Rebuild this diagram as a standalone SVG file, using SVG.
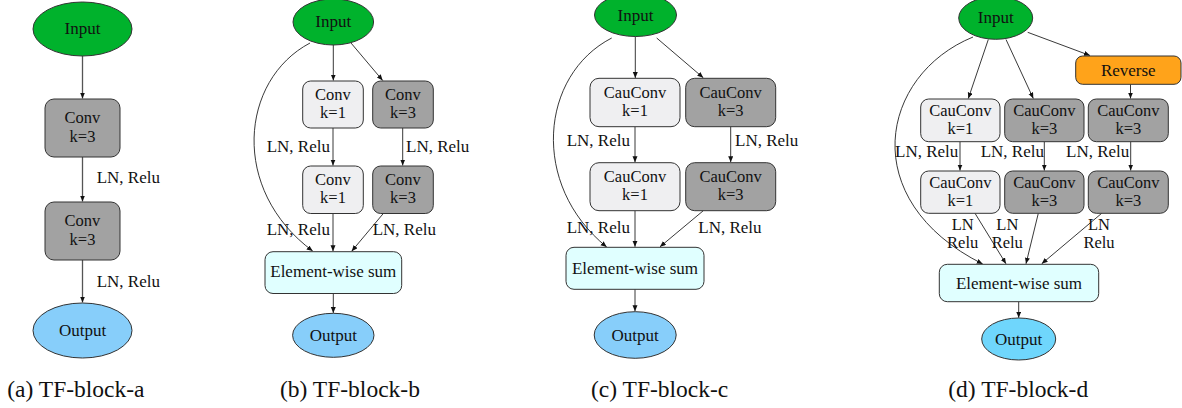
<svg xmlns="http://www.w3.org/2000/svg" width="1182" height="408" viewBox="0 0 1182 408" font-family="'Liberation Serif', 'Times New Roman', serif">
<defs>
<marker id="ah" markerUnits="userSpaceOnUse" markerWidth="7" markerHeight="6" refX="6" refY="2.5" orient="auto">
<path d="M0,0 L6,2.5 L0,5 z" fill="#111"/>
</marker>
<style>
text{font-family:"Liberation Serif","Times New Roman",serif;font-size:17px;fill:#111}
.m{text-anchor:middle}
.t2{font-size:16.5px}
.cap{font-size:23.5px}
.nd{stroke:#333;stroke-width:1}
.in{fill:#00b22c}
.out{fill:#87cefa}
.out2{fill:#6fd6fc}
.dk{fill:#a2a2a2}
.lt{fill:#efeff1}
.sum{fill:#e0ffff}
.rev{fill:#ffa31a}
.e{fill:none;stroke:#222;stroke-width:0.9;marker-end:url(#ah)}
.ea{fill:none;stroke:#555;stroke-width:1.3;marker-end:url(#ah)}
</style>
</defs>
<rect width="1182" height="408" fill="#fff"/>

<g id="connectors">
<!-- panel a -->
<path class="ea" d="M82.5,56 L82.5,98.5"/>
<path class="ea" d="M82.5,157 L82.5,201.5"/>
<path class="ea" d="M82.5,260 L82.5,302.5"/>
<!-- panel b -->
<path class="e" d="M333.3,45 L333.3,80.5"/>
<path class="e" d="M351,43 L382.7,80.5"/>
<path class="e" d="M333,128 L333,165.5"/>
<path class="e" d="M402.7,128 L402.7,165.5"/>
<path class="e" d="M333,213.5 L333,251.2"/>
<path class="e" d="M383.3,213.5 L351.7,251.2"/>
<path class="e" d="M333.3,293.5 L333.3,313"/>
<path class="e" d="M310,43 C240,80 230,190 312.7,251"/>
<!-- panel c -->
<path class="e" d="M635.3,36.5 L635.3,78"/>
<path class="e" d="M656.7,38 L703.3,77.8"/>
<path class="e" d="M635,126.7 L635,162.2"/>
<path class="e" d="M730.7,126.7 L730.7,162.2"/>
<path class="e" d="M635,210.7 L635,246.8"/>
<path class="e" d="M703.3,210.7 L660,246.8"/>
<path class="e" d="M635,289.3 L635,311.3"/>
<path class="e" d="M611.7,38 C540,75 530,185 606.7,247"/>
<!-- panel d -->
<path class="e" d="M988.3,39.5 L968.3,98.5"/>
<path class="e" d="M1006,39.5 L1033.3,98.5"/>
<path class="e" d="M1027.7,32.3 L1090,55.5"/>
<path class="e" d="M1130.5,84.3 L1130.5,98.5"/>
<path class="e" d="M960,141.7 L960,170.5"/>
<path class="e" d="M1044.3,141.7 L1044.3,170.5"/>
<path class="e" d="M1130.7,141.7 L1130.7,170.5"/>
<path class="e" d="M975,213.3 L1006,263.8"/>
<path class="e" d="M1038.3,213.3 L1026,263.8"/>
<path class="e" d="M1101.7,213.3 L1041.7,263.8"/>
<path class="e" d="M1018.7,301.7 L1018.7,317.8"/>
<path class="e" d="M973,37 C880,75 855,200 982.7,264"/>
</g>

<g id="labels">
<text x="96.7" y="183">LN, Relu</text>
<text x="96.7" y="287">LN, Relu</text>
<text x="266.7" y="152">LN, Relu</text>
<text x="406" y="152">LN, Relu</text>
<text x="266.7" y="235">LN, Relu</text>
<text x="372.7" y="235">LN, Relu</text>
<text x="566.7" y="146">LN, Relu</text>
<text x="735" y="146">LN, Relu</text>
<text x="566.7" y="233">LN, Relu</text>
<text x="698.3" y="233">LN, Relu</text>
<text x="895" y="157">LN, Relu</text>
<text x="980.7" y="157">LN, Relu</text>
<text x="1066" y="157">LN, Relu</text>
<text class="m t2" x="962.7" y="230">LN<tspan x="962.7" dy="18.4">Relu</tspan></text>
<text class="m t2" x="1007.3" y="230">LN<tspan x="1007.3" dy="18.4">Relu</tspan></text>
<text class="m t2" x="1099" y="230">LN<tspan x="1099" dy="18.4">Relu</tspan></text>
</g>

<!-- panel a nodes -->
<g id="a-input"><ellipse class="nd in" cx="82.5" cy="29" rx="49.5" ry="27"/><text class="m" x="82.5" y="34">Input</text></g>
<g id="a-conv1"><rect class="nd dk" x="45" y="99" width="75" height="58" rx="9"/><text class="m t2" x="82.5" y="123.3">Conv<tspan x="82.5" dy="18.4">k=3</tspan></text></g>
<g id="a-conv2"><rect class="nd dk" x="45" y="202" width="75" height="58" rx="9"/><text class="m t2" x="82.5" y="226.3">Conv<tspan x="82.5" dy="18.4">k=3</tspan></text></g>
<g id="a-output"><ellipse class="nd out" cx="82.5" cy="330.5" rx="49.5" ry="27.5"/><text class="m" x="82.5" y="336">Output</text></g>

<!-- panel b nodes -->
<g id="b-input"><ellipse class="nd in" cx="333.3" cy="22" rx="40.3" ry="23"/><text class="m" x="333.3" y="27">Input</text></g>
<g id="b-conv1a"><rect class="nd lt" x="302.7" y="81" width="60.6" height="47" rx="8"/><text class="m t2" x="333" y="99.8">Conv<tspan x="333" dy="18.4">k=1</tspan></text></g>
<g id="b-conv3a"><rect class="nd dk" x="372.7" y="81" width="60.6" height="47" rx="8"/><text class="m t2" x="403" y="99.8">Conv<tspan x="403" dy="18.4">k=3</tspan></text></g>
<g id="b-conv1b"><rect class="nd lt" x="302.7" y="166" width="60.6" height="47.5" rx="8"/><text class="m t2" x="333" y="185">Conv<tspan x="333" dy="18.4">k=1</tspan></text></g>
<g id="b-conv3b"><rect class="nd dk" x="372.7" y="166" width="60.6" height="47.5" rx="8"/><text class="m t2" x="403" y="185">Conv<tspan x="403" dy="18.4">k=3</tspan></text></g>
<g id="b-sum"><rect class="nd sum" x="265" y="251.7" width="136.7" height="41.8" rx="8"/><text class="m" x="333.3" y="277">Element-wise sum</text></g>
<g id="b-output"><ellipse class="nd out" cx="333.3" cy="335.3" rx="40.7" ry="22"/><text class="m" x="333.3" y="341">Output</text></g>

<!-- panel c nodes -->
<g id="c-input"><ellipse class="nd in" cx="635.5" cy="15" rx="41" ry="21.5"/><text class="m" x="635.5" y="21">Input</text></g>
<g id="c-cau1a"><rect class="nd lt" x="590" y="78.3" width="90" height="48.4" rx="9"/><text class="m t2" x="635" y="97.8">CauConv<tspan x="635" dy="18.4">k=1</tspan></text></g>
<g id="c-cau3a"><rect class="nd dk" x="685.7" y="78.3" width="90" height="48.4" rx="9"/><text class="m t2" x="730.7" y="97.8">CauConv<tspan x="730.7" dy="18.4">k=3</tspan></text></g>
<g id="c-cau1b"><rect class="nd lt" x="590" y="162.7" width="90" height="48" rx="9"/><text class="m t2" x="635" y="182">CauConv<tspan x="635" dy="18.4">k=1</tspan></text></g>
<g id="c-cau3b"><rect class="nd dk" x="685.7" y="162.7" width="90" height="48" rx="9"/><text class="m t2" x="730.7" y="182">CauConv<tspan x="730.7" dy="18.4">k=3</tspan></text></g>
<g id="c-sum"><rect class="nd sum" x="566" y="247.3" width="138" height="42" rx="8"/><text class="m" x="635" y="273.5">Element-wise sum</text></g>
<g id="c-output"><ellipse class="nd out" cx="635.2" cy="335" rx="41" ry="23.3"/><text class="m" x="635.2" y="340.5">Output</text></g>

<!-- panel d nodes -->
<g id="d-input"><ellipse class="nd in" cx="995.7" cy="18" rx="37" ry="21.3"/><text class="m" x="995.7" y="23">Input</text></g>
<g id="d-reverse"><rect class="nd rev" x="1075.7" y="56" width="105.3" height="28.3" rx="7"/><text class="m" x="1128.3" y="75.5">Reverse</text></g>
<g id="d-cau1a"><rect class="nd lt" x="920.7" y="99" width="79.3" height="42.7" rx="8"/><text class="m t2" x="960.3" y="115.6">CauConv<tspan x="960.3" dy="18.4">k=1</tspan></text></g>
<g id="d-cau3a"><rect class="nd dk" x="1004.7" y="99" width="79.3" height="42.7" rx="8"/><text class="m t2" x="1044.3" y="115.6">CauConv<tspan x="1044.3" dy="18.4">k=3</tspan></text></g>
<g id="d-cau3ra"><rect class="nd dk" x="1088.3" y="99" width="80" height="42.7" rx="8"/><text class="m t2" x="1128.3" y="115.6">CauConv<tspan x="1128.3" dy="18.4">k=3</tspan></text></g>
<g id="d-cau1b"><rect class="nd lt" x="920.7" y="171" width="79.3" height="42.3" rx="8"/><text class="m t2" x="960.3" y="187.5">CauConv<tspan x="960.3" dy="18.4">k=1</tspan></text></g>
<g id="d-cau3b"><rect class="nd dk" x="1004.7" y="171" width="79.3" height="42.3" rx="8"/><text class="m t2" x="1044.3" y="187.5">CauConv<tspan x="1044.3" dy="18.4">k=3</tspan></text></g>
<g id="d-cau3rb"><rect class="nd dk" x="1088.3" y="171" width="80" height="42.3" rx="8"/><text class="m t2" x="1128.3" y="187.5">CauConv<tspan x="1128.3" dy="18.4">k=3</tspan></text></g>
<g id="d-sum"><rect class="nd sum" x="939.3" y="264.3" width="159.4" height="37.4" rx="8"/><text class="m" x="1019" y="288.5">Element-wise sum</text></g>
<g id="d-output"><ellipse class="nd out2" cx="1018.7" cy="339" rx="37" ry="21"/><text class="m" x="1018.7" y="344.5">Output</text></g>

<g id="captions">
<text class="cap" x="7.3" y="397">(a) TF-block-a</text>
<text class="cap" x="280" y="397">(b) TF-block-b</text>
<text class="cap" x="591" y="397">(c) TF-block-c</text>
<text class="cap" x="948.3" y="397">(d) TF-block-d</text>
</g>
</svg>
